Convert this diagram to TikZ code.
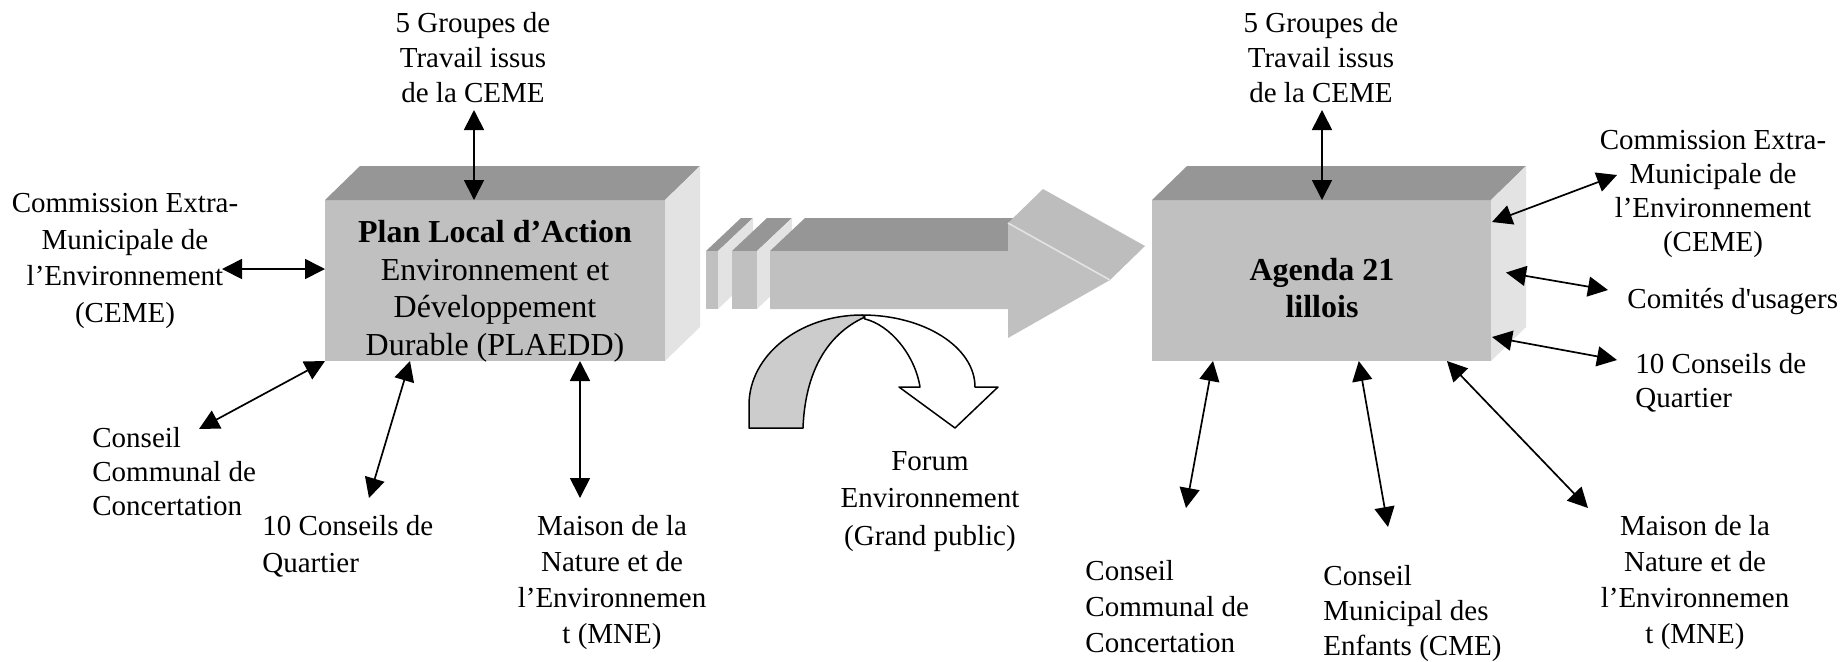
\documentclass[tikz,border=0pt]{standalone}
\usepackage{fontspec}
\setmainfont{Liberation Serif}
\usetikzlibrary{arrows.meta,calc}

\definecolor{boxfront}{HTML}{C0C0C0}
\definecolor{boxtop}{HTML}{969696}
\definecolor{boxside}{HTML}{E3E3E3}
\definecolor{headtop}{HTML}{BDBDBD}
\definecolor{turngray}{HTML}{CCCCCC}

\tikzset{
  boxface/.style={fill=boxfront, inner sep=0pt, outer sep=0pt, minimum width=170pt, minimum height=80.5pt},
  topface/.style={fill=boxtop},
  sideface/.style={fill=boxside},
  lbl/.style={font=\fontsize{14.5}{17.5}\selectfont, align=center, inner sep=0pt, anchor=north},
  lbll/.style={lbl, align=left, anchor=north west},
  boxtxt/.style={font=\fontsize{16}{18.8}\selectfont, align=center, inner sep=0pt, anchor=north},
  conn/.style={<->, line width=0.85pt},
  turn/.style={draw=black, line width=0.75pt, line join=round}
}

\begin{document}
\begin{tikzpicture}[x=0.5pt, y=-0.5pt, >={Triangle[length=10pt,width=10pt]}]
\useasboundingbox (0,0) rectangle (1848,661);

% the two boxes
\node[boxface] (plan) at (495,280.5) {};
\node[boxface, minimum width=169.5pt] (agenda) at (1321.5,280.5) {};
\foreach \b in {plan, agenda} {
  \fill[topface] (\b.north west) -- ++(35,-34) -- ($(\b.north east)+(35,-34)$) -- (\b.north east) -- cycle;
  \fill[sideface] (\b.north east) -- ++(35,-34) -- ($(\b.south east)+(35,-34)$) -- (\b.south east) -- cycle;
}
\node[boxtxt] (plantxt) at (495,220) {\textbf{Plan Local d’Action}\\Environnement et\\Développement\\Durable (PLAEDD)};
\node[boxtxt, font=\bfseries\fontsize{16}{18.5}\selectfont] (agendatxt) at (1322,258) {Agenda 21\\lillois};

% big arrow with its two slabs
\foreach \xa/\xb in {706/718, 732/757} {
  \fill[topface] (\xa,251) -- ++(35,-33) -- (\xb+35,218) -- (\xb,251) -- cycle;
  \fill[sideface] (\xb,251) -- ++(35,-33) -- ++(0,58) -- (\xb,309) -- cycle;
  \fill[boxfront] (\xa,251) rectangle (\xb,309);
}
\fill[topface] (770,251) -- (805,218) -- (1043,218) -- (1008,251) -- cycle;
\fill[headtop] (1008,223) -- (1043,189) -- (1145,246) -- (1110,280) -- cycle;
\fill[boxfront] (770,251) -- (1008,251) -- (1008,223) -- (1110,280) -- (1008,338) -- (1008,309) -- (770,309) -- cycle;
\draw[boxside, line width=0.8pt] (1008,223) -- (1110,280);

% curved arrow
\filldraw[turn, fill=white] (862,315) arc[start angle=270, end angle=360, x radius=113, y radius=72]
  -- (998,387) -- (955,428) -- (899,387) -- (920,387)
  .. controls (915,355) and (890,325) .. (865,319) -- cycle;
\filldraw[turn, fill=turngray] (749,428) -- (749,405) arc[start angle=180, end angle=270, x radius=113, y radius=90]
  -- (865,317) .. controls (825,335) and (805,375) .. (803,428) -- cycle;

% labels
\node[lbl] (grpL) at (473,12) {5 Groupes de\\Travail issus\\de la CEME};
\node[lbl] (grpR) at (1321,12) {5 Groupes de\\Travail issus\\de la CEME};
\node[lbl, font=\fontsize{14.5}{18.3}\selectfont] (cemeL) at (125,193) {Commission Extra-\\Municipale de\\l’Environnement\\(CEME)};
\node[lbll, font=\fontsize{14.5}{17}\selectfont] (ccL) at (92,427) {Conseil\\Communal de\\Concertation};
\node[lbll, font=\fontsize{14.5}{18.5}\selectfont] (quartL) at (262,515) {10 Conseils de\\Quartier};
\node[lbl, font=\fontsize{14.5}{18}\selectfont] (mneL) at (612,515) {Maison de la\\Nature et de\\l’Environnemen\\t (MNE)};
\node[lbl, font=\fontsize{14.5}{18.7}\selectfont] (forum) at (930,451) {Forum\\Environnement\\(Grand public)};
\node[lbl, font=\fontsize{14.5}{17}\selectfont] (cemeR) at (1713,130) {Commission Extra-\\Municipale de\\l’Environnement\\(CEME)};
\node[lbll] (comites) at (1627,288) {Comités d\textquotesingle usagers};
\node[lbll, font=\fontsize{14.5}{17}\selectfont] (quartR) at (1635,353) {10 Conseils de\\Quartier};
\node[lbll, font=\fontsize{14.5}{18}\selectfont] (ccR) at (1085,560) {Conseil\\Communal de\\Concertation};
\node[lbll] (cmeR) at (1323,565) {Conseil\\Municipal des\\Enfants (CME)};
\node[lbl, font=\fontsize{14.5}{18}\selectfont] (mneR) at (1695,515) {Maison de la\\Nature et de\\l’Environnemen\\t (MNE)};

% connectors of the plan
\coordinate (grpLend) at (474,110);
\draw[conn] (grpLend) -- (grpLend |- plan.north);
\coordinate (cemeLend) at (222,269);
\draw[conn] (cemeLend) -- (cemeLend -| plan.west);
\coordinate (ccLend) at (199,429);
\draw[conn] (ccLend) -- (plan.south west);
\coordinate (quartLend) at (369,498);
\draw[conn] (quartLend) -- ($(plan.south west)!0.25!(plan.south east)$);
\coordinate (mneLend) at (580,498);
\draw[conn] (mneLend) -- (mneLend |- plan.south);

% connectors of the agenda
\coordinate (grpRend) at (1322,110);
\draw[conn] (grpRend) -- (grpRend |- agenda.north);
\coordinate (cemeRend) at (1617,175);
\draw[conn] (cemeRend) -- ($(agenda.north east)+(1,22)$);
\coordinate (comitesend) at (1608,290);
\draw[conn] (comitesend) -- ($(agenda.east)+(15,-8)$);
\coordinate (quartRend) at (1617,360);
\draw[conn] (quartRend) -- ($(agenda.south east)+(1,-24)$);
\coordinate (ccRend) at (1186,508);
\draw[conn] (ccRend) -- ($(agenda.south west)!0.18!(agenda.south east)$);
\coordinate (cmeRend) at (1388,527);
\draw[conn] (cmeRend) -- ($(agenda.south west)!0.61!(agenda.south east)$);
\coordinate (mneRend) at (1588,508);
\draw[conn] (mneRend) -- ($(agenda.south west)!0.87!(agenda.south east)$);

\end{tikzpicture}
\end{document}
